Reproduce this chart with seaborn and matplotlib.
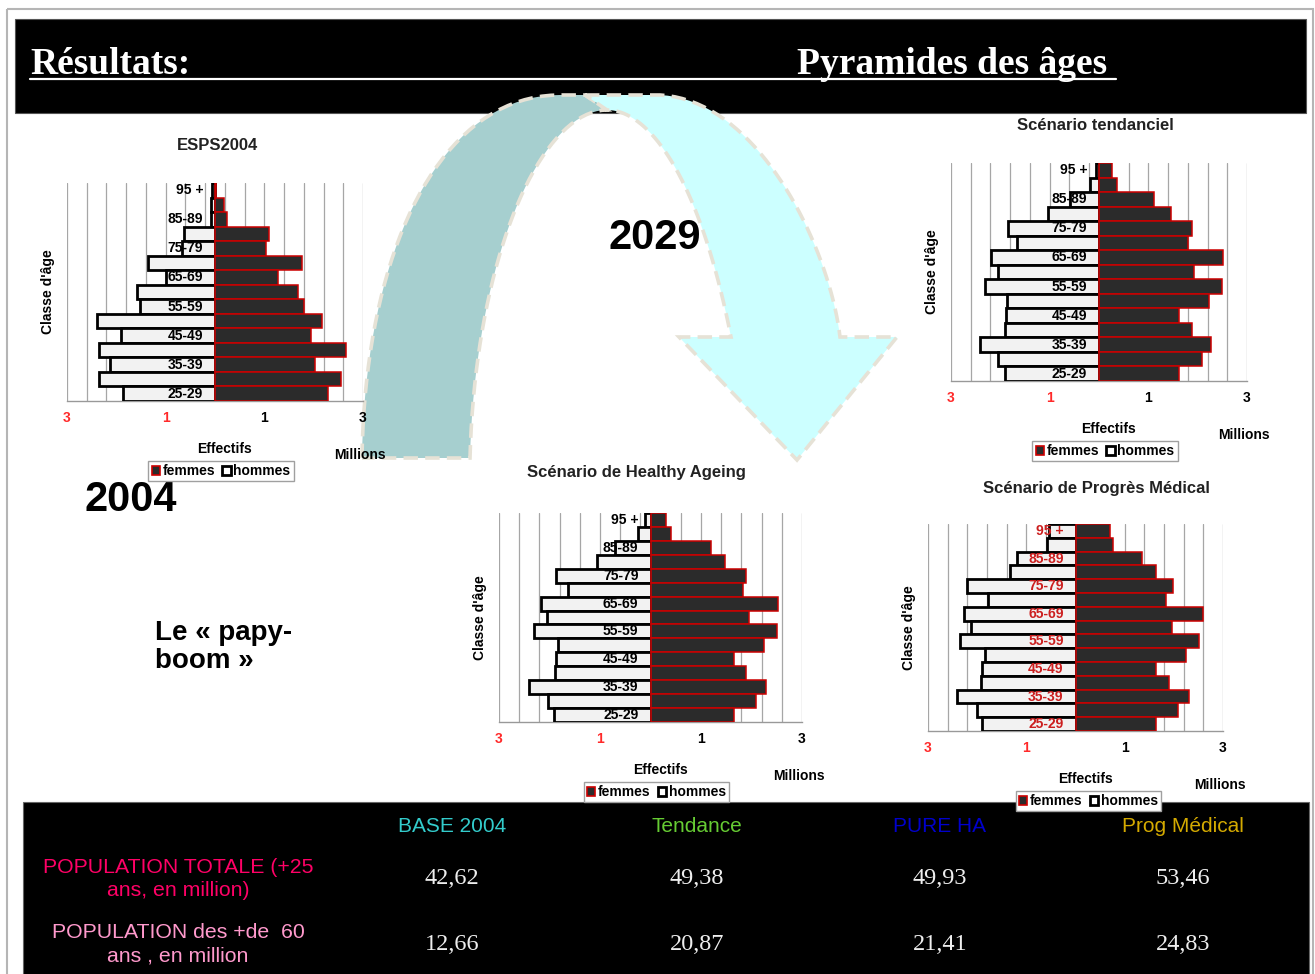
import numpy as np
import pandas as pd
import matplotlib
matplotlib.use("Agg")
import matplotlib.pyplot as plt
from matplotlib.patches import Rectangle, Patch, PathPatch
from matplotlib.path import Path
import seaborn as sns

W, H = 1315, 974

# classes d'âge, du bas vers le haut de la pyramide
AGES = ["25-29", "30-34", "35-39", "40-44", "45-49", "50-54", "55-59", "60-64",
        "65-69", "70-74", "75-79", "80-84", "85-89", "90-94", "95 +"]
AGE_LABELS = AGES[::2]

ESPS_FEMMES = [2.29, 2.55, 2.03, 2.66, 1.94, 2.16, 1.80, 1.69, 1.27, 1.77, 1.03, 1.10, 0.24, 0.19, 0.03]
ESPS_HOMMES = [1.87, 2.36, 2.13, 2.36, 1.91, 2.39, 1.53, 1.59, 0.99, 1.36, 0.66, 0.63, 0.09, 0.08, 0.06]

TEND_FEMMES = [1.62, 2.08, 2.27, 1.88, 1.63, 2.22, 2.49, 1.93, 2.51, 1.81, 1.88, 1.46, 1.12, 0.36, 0.27]
TEND_HOMMES = [1.91, 2.04, 2.41, 1.91, 1.89, 1.86, 2.31, 2.05, 2.18, 1.66, 1.84, 1.03, 0.59, 0.18, 0.07]

HA_FEMMES = [1.65, 2.09, 2.28, 1.90, 1.65, 2.25, 2.50, 1.95, 2.52, 1.83, 1.90, 1.48, 1.19, 0.40, 0.31]
HA_HOMMES = [1.91, 2.02, 2.40, 1.89, 1.87, 1.83, 2.30, 2.04, 2.17, 1.64, 1.87, 1.06, 0.70, 0.25, 0.10]

PM_FEMMES = [1.64, 2.09, 2.31, 1.90, 1.63, 2.25, 2.51, 1.97, 2.59, 1.84, 1.99, 1.63, 1.36, 0.77, 0.71]
PM_HOMMES = [1.91, 2.01, 2.41, 1.92, 1.91, 1.85, 2.34, 2.12, 2.27, 1.78, 2.20, 1.34, 1.19, 0.58, 0.54]

XTICKS = np.linspace(-3, 3, 16)
XTICK_LABELS = {-3.0: "3", -1.0: "1", 1.0: "1", 3.0: "3"}

# tableau du bas
TABLE_COLUMNS = ["BASE 2004", "Tendance", "PURE HA", "Prog Médical"]
TABLE_ROWS = ["POPULATION TOTALE (+25\nans, en million)", "POPULATION des +de  60\nans , en million"]
POP_TOTALE = [42.62, 49.38, 49.93, 53.46]
POP_60 = [12.66, 20.87, 21.41, 24.83]

COL_COLORS = ["#33cccc", "#66cc33", "#0000cc", "#d4aa00"]
ROW_COLORS = ["#ff0066", "#ff99cc"]
COL_X = [452, 697, 940, 1183]

FEM_FILL, FEM_EDGE = "#2b2b2b", "#cc0000"
HOM_FILL, HOM_EDGE = "#f2f2f2", "#000000"

sns.set_theme(style="white")
plt.rcParams["font.family"] = ["Liberation Sans", "DejaVu Sans"]
plt.rcParams["text.color"] = "black"
plt.rcParams["axes.labelcolor"] = "black"
plt.rcParams["xtick.color"] = "black"


def fx(x):
    return x / W


def fy(y):
    return 1 - y / H


def draw_pyramid(fig, box, title, title_xy, femmes, hommes, label_color="black", legend_dx=6):
    l, t, r, b = box
    ax = fig.add_axes([fx(l), fy(b), (r - l) / W, (b - t) / H], zorder=2)
    ax.set_facecolor("none")
    order = AGES[::-1]

    df = pd.DataFrame({
        "age": AGES * 2,
        "sexe": ["femmes"] * len(AGES) + ["hommes"] * len(AGES),
        "effectif": list(femmes) + [-v for v in hommes],
    })

    sns.barplot(data=df[df["sexe"] == "hommes"], x="effectif", y="age", order=order,
                color=HOM_FILL, edgecolor=HOM_EDGE, linewidth=2.0, width=1.0,
                saturation=1, errorbar=None, ax=ax, zorder=3)
    sns.barplot(data=df[df["sexe"] == "femmes"], x="effectif", y="age", order=order,
                color=FEM_FILL, edgecolor=FEM_EDGE, linewidth=1.1, width=1.0,
                saturation=1, errorbar=None, ax=ax, zorder=3)

    ax.set_xlim(-3, 3)
    ax.set_ylim(len(AGES) - 0.5, -0.5)
    ax.set_yticks([])
    ax.set_xticks(XTICKS)
    ax.set_xticklabels([XTICK_LABELS.get(round(v, 1), "") for v in XTICKS],
                       fontweight="bold", fontsize=10)
    for lbl, v in zip(ax.get_xticklabels(), XTICKS):
        if v < 0:
            lbl.set_color("#ff2a2a")
    ax.tick_params(axis="x", length=4, color="#999999", direction="out", pad=3)
    ax.grid(axis="x", color="#a6a6a6", linewidth=0.9)
    ax.set_axisbelow(True)
    for side in ["top", "left", "right"]:
        ax.spines[side].set_visible(False)
    ax.spines["bottom"].set_color("#999999")
    ax.spines["bottom"].set_linewidth(1.0)

    # étiquettes des classes d'âge, dans la pyramide
    for i, age in enumerate(order):
        if age in AGE_LABELS:
            ax.text(-0.24, i, age, ha="right", va="center", fontsize=10,
                    fontweight="bold", color=label_color, zorder=5)

    ax.set_xlabel("")
    ax.set_ylabel("Classe d'âge", fontsize=10, fontweight="bold")
    ax.yaxis.set_label_coords(-12 / (r - l), 0.5)

    fig.text(fx(title_xy[0]), fy(title_xy[1]), title, ha="center", va="center",
             fontsize=12, fontweight="bold", color="#222222")
    zero_x = (l + r) / 2
    fig.text(fx(zero_x + 10), fy(b + 48), "Effectifs", ha="center", va="center",
             fontsize=10, fontweight="bold", zorder=5)
    fig.text(fx(r - 3), fy(b + 54), "Millions", ha="center", va="center",
             fontsize=10, fontweight="bold", zorder=5)

    handles = [Patch(facecolor=FEM_FILL, edgecolor=FEM_EDGE, linewidth=1.2),
               Patch(facecolor="white", edgecolor="black", linewidth=2.0)]
    leg = ax.legend(handles, ["femmes", "hommes"], loc="center", ncol=2,
                    bbox_to_anchor=(fx(zero_x + legend_dx), fy(b + 70)),
                    bbox_transform=fig.transFigure, frameon=True, fancybox=False,
                    edgecolor="#a0a0a0", framealpha=1, borderaxespad=0,
                    prop={"weight": "bold", "size": 10}, handlelength=0.6,
                    handleheight=0.6, handletextpad=0.2, columnspacing=0.5,
                    borderpad=0.25)
    leg.get_frame().set_linewidth(1.0)
    return ax


def bezier(p0, p1, p2, p3, n=40):
    t = np.linspace(0, 1, n)[:, None]
    p0, p1, p2, p3 = map(np.array, (p0, p1, p2, p3))
    return (1 - t) ** 3 * p0 + 3 * (1 - t) ** 2 * t * p1 + 3 * (1 - t) * t ** 2 * p2 + t ** 3 * p3


fig = plt.figure(figsize=(W / 100, H / 100), dpi=100)
fig.patch.set_facecolor("white")

bg = fig.add_axes([0, 0, 1, 1], zorder=0)
bg.set_xlim(0, W)
bg.set_ylim(H, 0)
bg.axis("off")

# cadre, bandeau et tableau
bg.add_patch(Rectangle((7, 9), 1306, 980, fill=False, edgecolor="#b5b5b5", linewidth=1.5))
bg.add_patch(Rectangle((15, 19), 1291, 94, facecolor="black", edgecolor="#555555", linewidth=0.8))
bg.add_patch(Rectangle((23, 802), 1286, 180, facecolor="black", edgecolor="#666666", linewidth=0.8))

bg.text(30, 74, "Résultats:", color="white", fontsize=27, fontweight="bold",
        family="Liberation Serif", ha="left", va="baseline")
bg.text(797, 74, "Pyramides des âges", color="white", fontsize=27, fontweight="bold",
        family="Liberation Serif", ha="left", va="baseline")
bg.plot([30, 1116], [79, 79], color="white", linewidth=1.6)

# flèche courbe 2004 -> 2029
outer_left = bezier((362, 458), (365, 250), (440, 95), (560, 95))
inner_left = bezier((607, 110), (540, 110), (475, 260), (470, 458))
outer_right = bezier((660, 95), (760, 100), (830, 250), (840, 337))
inner_right = bezier((731, 337), (700, 180), (650, 110), (607, 110))

teal = np.vstack([outer_left, [(585, 95), (607, 110)], inner_left])
cyan = np.vstack([[(585, 95)], outer_right, [(897, 337), (797, 460), (679, 337)], inner_right])
for pts, col in [(teal, "#a6cfcf"), (cyan, "#ccffff")]:
    path = Path(np.vstack([pts, pts[:1]]), closed=True)
    bg.add_patch(PathPatch(path, facecolor=col, edgecolor="#e6e2d6", linewidth=2.6,
                           linestyle=(0, (4, 2)), zorder=2))

bg.text(655, 238, "2029", fontsize=30, fontweight="bold", ha="center", va="center", zorder=4)
bg.text(131, 500, "2004", fontsize=30, fontweight="bold", ha="center", va="center", zorder=4)
bg.text(155, 647, "Le « papy-\nboom »", fontsize=20, fontweight="bold", ha="left",
        va="center", linespacing=1.15, zorder=4)

# tableau récapitulatif
for x, name, col in zip(COL_X, TABLE_COLUMNS, COL_COLORS):
    bg.text(x, 826, name, color=col, fontsize=15, ha="center", va="center", zorder=4)
for y, label, col in zip([879, 944], TABLE_ROWS, ROW_COLORS):
    bg.text(178, y, label, color=col, fontsize=15.3, ha="center", va="center",
            linespacing=1.3, zorder=4)
for y, values in zip([879, 944], [POP_TOTALE, POP_60]):
    for x, v in zip(COL_X, values):
        bg.text(x, y, f"{v:.2f}".replace(".", ","), color="#eeeeee", fontsize=17.5,
                family="Liberation Serif", ha="center", va="center", zorder=4)

draw_pyramid(fig, (67, 183, 363, 401), "ESPS2004", (218, 146), ESPS_FEMMES, ESPS_HOMMES)
draw_pyramid(fig, (951, 163, 1247, 381), "Scénario tendanciel", (1095, 126), TEND_FEMMES, TEND_HOMMES)
draw_pyramid(fig, (499, 513, 802, 722), "Scénario de Healthy Ageing", (636, 473), HA_FEMMES, HA_HOMMES)
draw_pyramid(fig, (928, 524, 1223, 731), "Scénario de Progrès Médical", (1096, 489), PM_FEMMES, PM_HOMMES,
             label_color="#cc1f1f", legend_dx=13)

fig.savefig("out.png", dpi=100, facecolor="white")
